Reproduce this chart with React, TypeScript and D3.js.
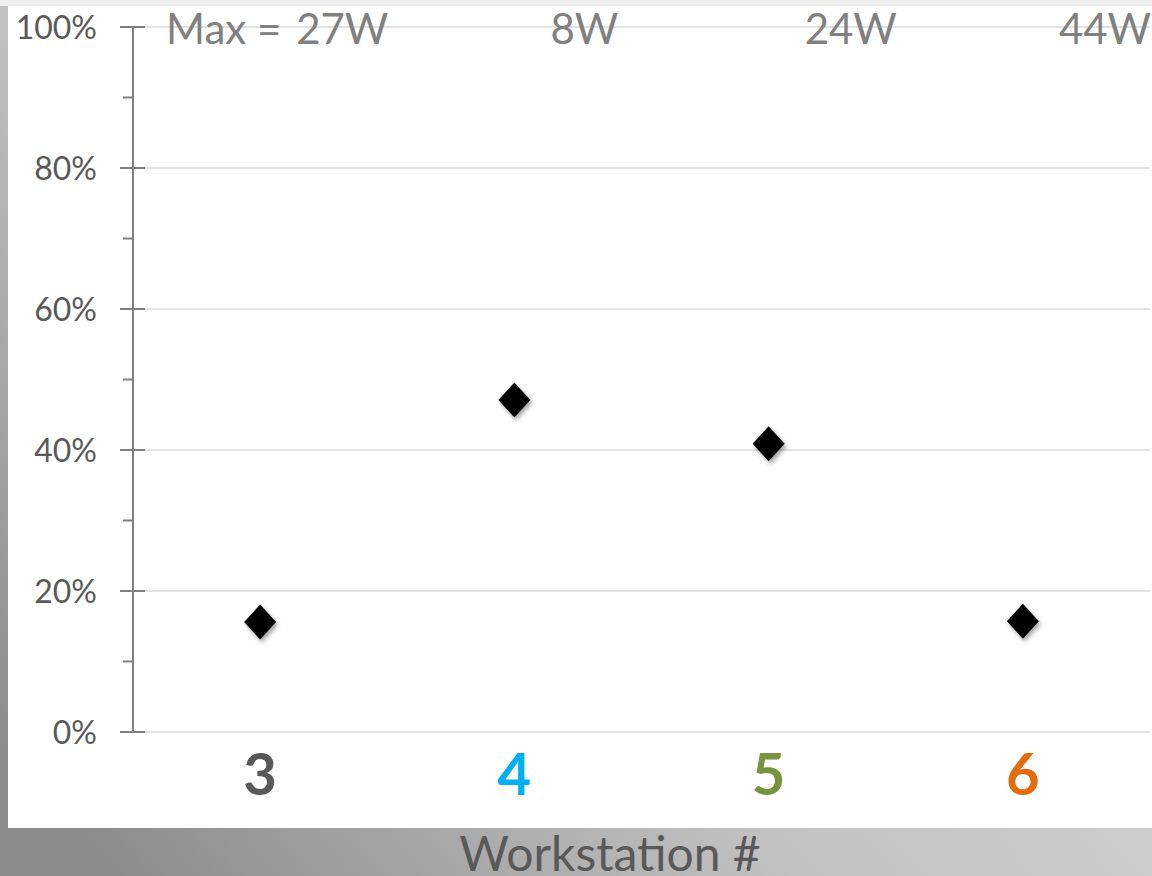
import React from "react";
import * as d3 from "d3";

const categories = ["3", "4", "5", "6"];
const categoryColors = ["#595959", "#00b0f0", "#77933c", "#e46c0a"];
const values = [15.6, 47.1, 40.9, 15.7];
const wattLabels = ["27W", "8W", "24W", "44W"];
const maxPrefix = "Max = ";
const yTicks = [0, 20, 40, 60, 80, 100];
const yMinorTicks = [10, 30, 50, 70, 90];
const xTitle = "Workstation #";

const W = 1152;
const H = 876;
const FONT = "Lato, 'Open Sans', sans-serif";

export default function App() {
  const left = 133;
  const right = 1150;
  const top = 27;
  const bottom = 732;

  const x = d3.scaleBand<string>().domain(categories).range([left, right]);
  const y = d3.scaleLinear().domain([0, 100]).range([bottom, top]);
  const cx = (c: string) => (x(c) as number) + x.bandwidth() / 2;

  const diamond = (px: number, py: number) => {
    const p = d3.path();
    p.moveTo(px, py - 17.5);
    p.lineTo(px + 16, py);
    p.lineTo(px, py + 17.5);
    p.lineTo(px - 16, py);
    p.closePath();
    return p.toString();
  };

  return (
    <svg
      width={W}
      height={H}
      style={{ position: "fixed", left: 0, top: 0, display: "block" }}
    >
      <defs>
        <linearGradient id="bg" x1="0" y1="0.85" x2="1" y2="0.15">
          <stop offset="0" stopColor="#8c8c8c" />
          <stop offset="0.4" stopColor="#c2c2c2" />
          <stop offset="0.65" stopColor="#cecece" />
          <stop offset="1" stopColor="#f4f4f4" />
        </linearGradient>
        <filter id="shadow" x="-50%" y="-50%" width="200%" height="200%">
          <feDropShadow dx="2" dy="3" stdDeviation="2" floodColor="#000" floodOpacity="0.35" />
        </filter>
      </defs>
      <rect x={0} y={0} width={W} height={H} fill="url(#bg)" />
      <rect x={0} y={0} width={W} height={6} fill="#eeeeee" />
      <rect x={8} y={6} width={W - 8} height={822} fill="#ffffff" />

      {/* gridlines */}
      {yTicks.map((t) => (
        <line
          key={"g" + t}
          x1={145}
          x2={right}
          y1={y(t)}
          y2={y(t)}
          stroke="#d9d9d9"
          strokeWidth={1.5}
        />
      ))}

      {/* axis */}
      <line x1={left} x2={left} y1={y(100)} y2={y(0)} stroke="#808080" strokeWidth={2} />
      {yTicks.map((t) => (
        <line key={"t" + t} x1={120} x2={145} y1={y(t)} y2={y(t)} stroke="#808080" strokeWidth={2} />
      ))}
      {yMinorTicks.map((t) => (
        <line key={"m" + t} x1={123} x2={left} y1={y(t)} y2={y(t)} stroke="#808080" strokeWidth={2} />
      ))}
      {yTicks.map((t) => (
        <text
          key={"l" + t}
          x={97}
          y={y(t)}
          dy="0.36em"
          textAnchor="end"
          fontFamily={FONT}
          fontSize={32}
          fill="#595959"
        >
          {t + "%"}
        </text>
      ))}

      {/* top watt labels */}
      {wattLabels.map((w, i) => (
        <text
          key={"w" + i}
          x={cx(categories[i]) + 36}
          y={44}
          fontFamily={FONT}
          fontSize={42}
          fill="#808080"
        >
          {w}
        </text>
      ))}
      <text
        x={cx(categories[0]) + 32}
        y={44}
        textAnchor="end"
        fontFamily={FONT}
        fontSize={42}
        fill="#808080"
        style={{ whiteSpace: "pre" }}
      >
        {maxPrefix}
      </text>

      {/* category labels */}
      {categories.map((c, i) => (
        <text
          key={"c" + c}
          x={cx(c)}
          y={795}
          textAnchor="middle"
          fontFamily={FONT}
          fontWeight="bold"
          fontSize={58}
          fill={categoryColors[i]}
        >
          {c}
        </text>
      ))}

      {/* points */}
      {values.map((v, i) => (
        <path
          key={"p" + i}
          d={diamond(cx(categories[i]), y(v))}
          fill="#000"
          filter="url(#shadow)"
        />
      ))}

      <text x={610} y={871} textAnchor="middle" fontFamily={FONT} fontSize={48} fill="#595959">
        {xTitle}
      </text>
    </svg>
  );
}
